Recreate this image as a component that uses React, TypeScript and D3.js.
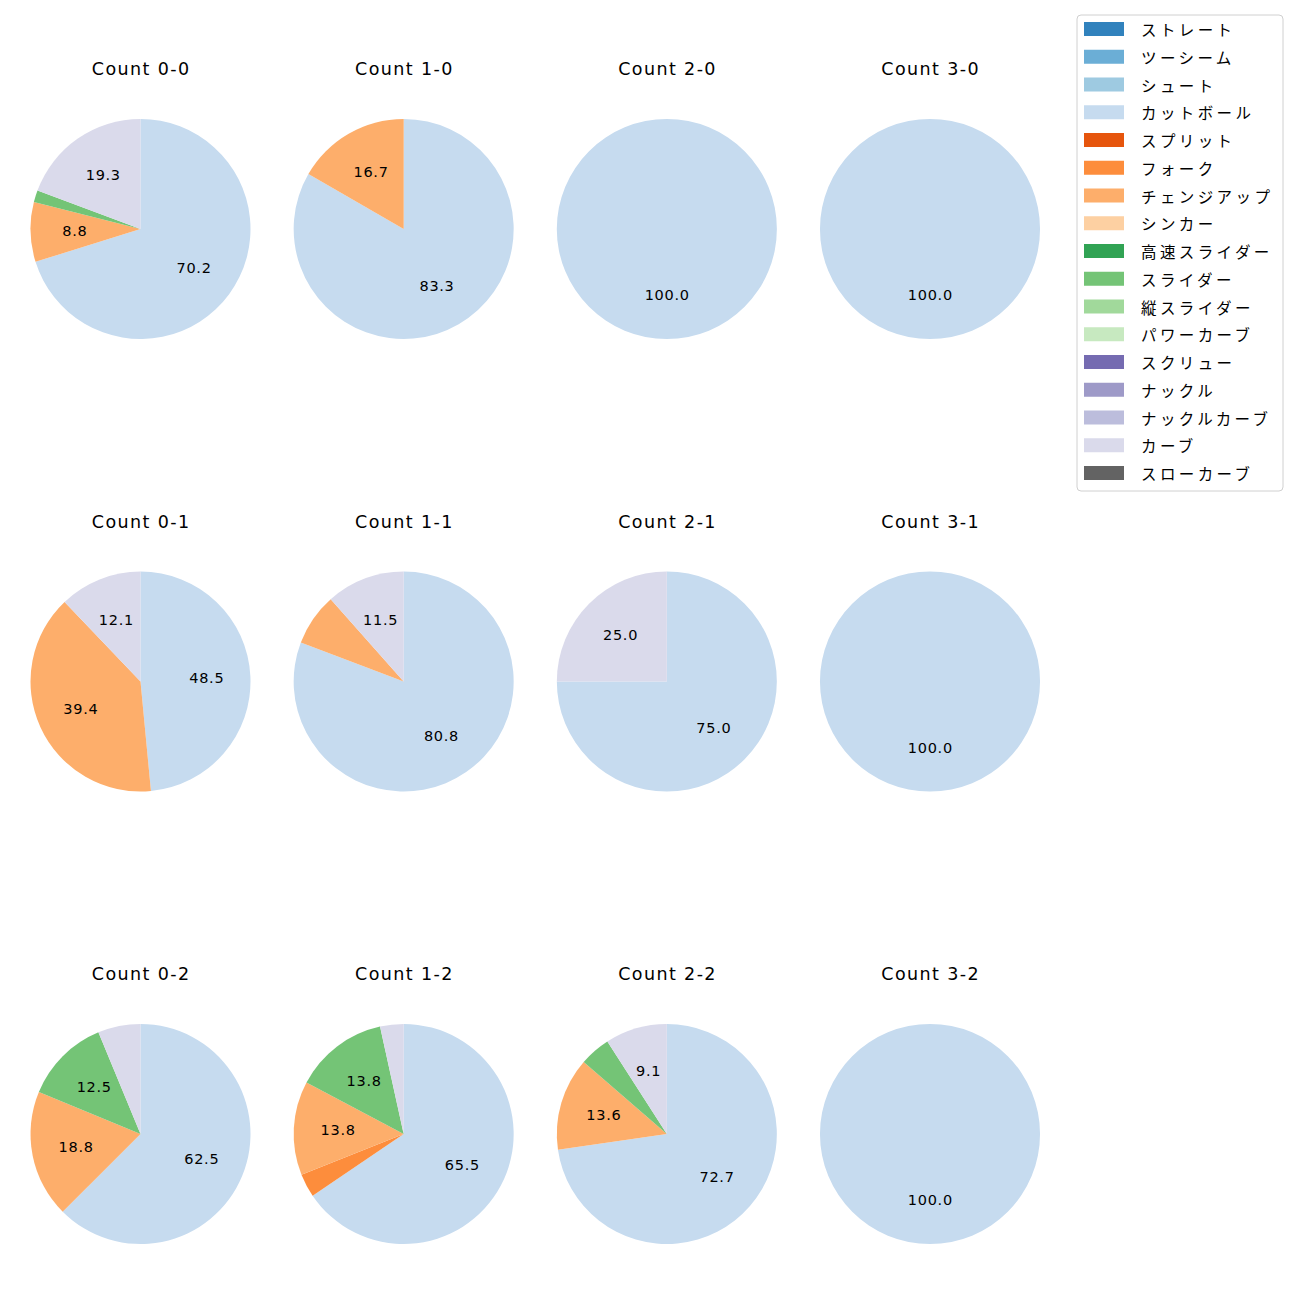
import React from "react";
import * as d3 from "d3";

const pitchTypes = [
  "ストレート", "ツーシーム", "シュート", "カットボール", "スプリット", "フォーク",
  "チェンジアップ", "シンカー", "高速スライダー", "スライダー", "縦スライダー",
  "パワーカーブ", "スクリュー", "ナックル", "ナックルカーブ", "カーブ", "スローカーブ",
];
const pitchColors = [
  "#3182bd", "#6baed6", "#9ecae1", "#c6dbef", "#e6550d", "#fd8d3c",
  "#fdae6b", "#fdd0a2", "#31a354", "#74c476", "#a1d99b",
  "#c7e9c0", "#756bb1", "#9e9ac8", "#bcbddc", "#dadaeb", "#636363",
];

// pitch counts per ball-strike count, aligned with pitchTypes
const count00 = [0, 0, 0, 40, 0, 0, 5, 0, 0, 1, 0, 0, 0, 0, 0, 11, 0];
const count10 = [0, 0, 0, 5, 0, 0, 1, 0, 0, 0, 0, 0, 0, 0, 0, 0, 0];
const count20 = [0, 0, 0, 1, 0, 0, 0, 0, 0, 0, 0, 0, 0, 0, 0, 0, 0];
const count30 = [0, 0, 0, 1, 0, 0, 0, 0, 0, 0, 0, 0, 0, 0, 0, 0, 0];
const count01 = [0, 0, 0, 16, 0, 0, 13, 0, 0, 0, 0, 0, 0, 0, 0, 4, 0];
const count11 = [0, 0, 0, 21, 0, 0, 2, 0, 0, 0, 0, 0, 0, 0, 0, 3, 0];
const count21 = [0, 0, 0, 3, 0, 0, 0, 0, 0, 0, 0, 0, 0, 0, 0, 1, 0];
const count31 = [0, 0, 0, 1, 0, 0, 0, 0, 0, 0, 0, 0, 0, 0, 0, 0, 0];
const count02 = [0, 0, 0, 10, 0, 0, 3, 0, 0, 2, 0, 0, 0, 0, 0, 1, 0];
const count12 = [0, 0, 0, 19, 0, 1, 4, 0, 0, 4, 0, 0, 0, 0, 0, 1, 0];
const count22 = [0, 0, 0, 16, 0, 0, 3, 0, 0, 1, 0, 0, 0, 0, 0, 2, 0];
const count32 = [0, 0, 0, 1, 0, 0, 0, 0, 0, 0, 0, 0, 0, 0, 0, 0, 0];

const countTitles = [
  ["Count 0-0", "Count 1-0", "Count 2-0", "Count 3-0"],
  ["Count 0-1", "Count 1-1", "Count 2-1", "Count 3-1"],
  ["Count 0-2", "Count 1-2", "Count 2-2", "Count 3-2"],
];
const countValues = [
  [count00, count10, count20, count30],
  [count01, count11, count21, count31],
  [count02, count12, count22, count32],
];

const FONT = "'Noto Sans CJK JP', 'Noto Sans', sans-serif";
const LATIN = "'DejaVu Sans', 'Noto Sans CJK JP', sans-serif";
const W = 1300;
const H = 1300;
const R = 110;
const colX = d3.scalePoint<number>().domain([0, 1, 2, 3]).range([140.5, 930]);
const rowY = d3.scalePoint<number>().domain([0, 1, 2]).range([229, 1134]);

const TITLE_LS = 1.4;
const LABEL_LS = 0.7;
const LEG_LS = 3.4;

type Datum = { v: number; i: number };

function Pie({ values, title, cx, cy }: { values: number[]; title: string; cx: number; cy: number }) {
  const data: Datum[] = values.map((v, i) => ({ v, i })).filter((d) => d.v > 0);
  const total = d3.sum(data, (d) => d.v);
  const arcs = d3.pie<Datum>().sort(null).value((d) => d.v)(data);
  const arc = d3.arc<d3.PieArcDatum<Datum>>().innerRadius(0).outerRadius(R);
  const labelArc = d3.arc<d3.PieArcDatum<Datum>>().innerRadius(R * 0.6).outerRadius(R * 0.6);
  return (
    <g transform={`translate(${cx},${cy})`}>
      <text
        x={TITLE_LS / 2}
        y={-154}
        textAnchor="middle"
        fontSize={17.5}
        letterSpacing={TITLE_LS}
        fill="#000"
        fontFamily={LATIN}
      >
        {title}
      </text>
      {arcs.map((a) => (
        <path key={a.data.i} d={arc(a) || ""} fill={pitchColors[a.data.i]} />
      ))}
      {arcs.map((a) => {
        const pct = (a.data.v / total) * 100;
        if (pct < 8) return null;
        const [lx, ly] = labelArc.centroid(a);
        return (
          <text
            key={"l" + a.data.i}
            x={lx + LABEL_LS / 2}
            y={ly}
            textAnchor="middle"
            dominantBaseline="central"
            fontSize={14.5}
            letterSpacing={LABEL_LS}
            fill="#000"
            fontFamily={LATIN}
          >
            {pct.toFixed(1)}
          </text>
        );
      })}
    </g>
  );
}

function Legend() {
  const x0 = 1077;
  const y0 = 15;
  const step = 27.75;
  return (
    <g>
      <rect x={x0} y={y0} width={206} height={476} rx={4} fill="#fff" fillOpacity={0.8} stroke="#d0d0d0" strokeWidth={1} />
      {pitchTypes.map((p, i) => {
        const y = 29 + i * step;
        return (
          <g key={p}>
            <rect x={1084} y={y - 7} width={40} height={14} fill={pitchColors[i]} />
            <text
              x={1141}
              y={y}
              dominantBaseline="central"
              fontSize={15.5}
              letterSpacing={LEG_LS}
              fill="#000"
              fontFamily={FONT}
            >
              {p}
            </text>
          </g>
        );
      })}
    </g>
  );
}

export default function App() {
  return (
    <svg width={W} height={H} style={{ display: "block", position: "absolute", left: 0, top: 0 }}>
      <rect width={W} height={H} fill="#fff" />
      {countValues.map((row, r) =>
        row.map((vals, c) => (
          <Pie key={`${r}-${c}`} values={vals} title={countTitles[r][c]} cx={colX(c)!} cy={rowY(r)!} />
        ))
      )}
      <Legend />
    </svg>
  );
}
